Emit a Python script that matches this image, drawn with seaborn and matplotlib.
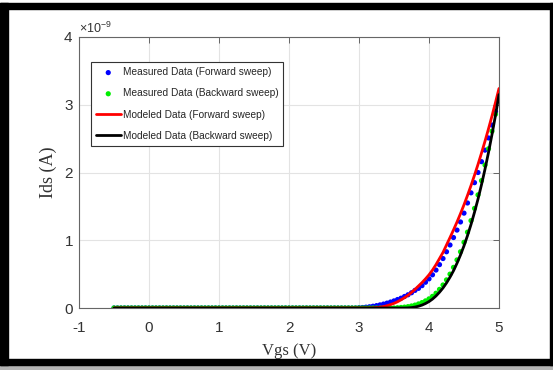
import numpy as np
import matplotlib
matplotlib.use("Agg")
import matplotlib.pyplot as plt
import seaborn as sns
from matplotlib.patches import Rectangle

# =============================
# Data (Ids in units of 1e-9 A)
# =============================
vgs = np.round(np.arange(-0.5, 5.0 + 1e-9, 0.05), 2)  # sweep grid, 111 points

ids_fwd_meas = [0.0] * 70 + [
    0.004, 0.007, 0.012, 0.018, 0.026, 0.035, 0.046, 0.058, 0.072, 0.088,
    0.105, 0.125, 0.145, 0.17, 0.195, 0.225, 0.26, 0.29, 0.33, 0.38,
    0.43, 0.49, 0.56, 0.64, 0.73, 0.83, 0.93, 1.04, 1.15, 1.27,
    1.40, 1.55, 1.70, 1.85, 2.00, 2.16, 2.33, 2.51, 2.70, 2.90, 3.12]

ids_bwd_meas = [0.0] * 81 + [
    0.004, 0.008, 0.013, 0.02, 0.03, 0.043, 0.06, 0.08, 0.105, 0.135,
    0.172, 0.218, 0.275, 0.34, 0.415, 0.50, 0.60, 0.71, 0.83, 0.97,
    1.12, 1.29, 1.47, 1.67, 1.88, 2.11, 2.35, 2.61, 2.86, 3.12]

ids_fwd_model = [0.0] * 73 + [
    0.0005, 0.002, 0.006, 0.012, 0.021, 0.034, 0.05, 0.069, 0.092, 0.12,
    0.152, 0.188, 0.23, 0.275, 0.325, 0.375, 0.43, 0.49, 0.56, 0.64,
    0.73, 0.82, 0.93, 1.04, 1.152, 1.269, 1.393, 1.524, 1.662, 1.807,
    1.96, 2.119, 2.287, 2.462, 2.645, 2.835, 3.034, 3.24]

ids_bwd_model = [0.0] * 84 + [
    0.002, 0.006, 0.014, 0.026, 0.043, 0.066, 0.095, 0.132, 0.178, 0.233,
    0.296, 0.37, 0.455, 0.55, 0.661, 0.783, 0.918, 1.068, 1.232, 1.413,
    1.607, 1.82, 2.049, 2.296, 2.562, 2.845, 3.15]

labels = ["Measured Data (Forward sweep)", "Measured Data (Backward sweep)",
          "Modeled Data (Forward sweep)", "Modeled Data (Backward sweep)"]

x_ticks = [-1, 0, 1, 2, 3, 4, 5]
y_ticks = [0, 1, 2, 3, 4]

# =============================
# Style
# =============================
sns.set_style("white")
plt.rcParams["font.family"] = ["Liberation Sans", "DejaVu Sans"]
plt.rcParams["axes.unicode_minus"] = False
plt.rcParams["mathtext.fontset"] = "custom"
plt.rcParams["mathtext.rm"] = "Liberation Sans"

fig, ax = plt.subplots(figsize=(5.53, 3.70), dpi=100)
fig.subplots_adjust(left=79 / 553, right=499 / 553, bottom=1 - 308 / 370, top=1 - 37 / 370)

scale = 1e-9
sns.scatterplot(x=vgs, y=np.array(ids_fwd_meas) * scale, color="#0000ff", s=14,
                edgecolor="none", label=labels[0], ax=ax, zorder=2)
sns.scatterplot(x=vgs, y=np.array(ids_bwd_meas) * scale, color="#00ee00", s=14,
                edgecolor="none", label=labels[1], ax=ax, zorder=2)
sns.lineplot(x=vgs, y=np.array(ids_fwd_model) * scale, color="#ff0000", linewidth=2.0,
             label=labels[2], ax=ax, zorder=3)
sns.lineplot(x=vgs, y=np.array(ids_bwd_model) * scale, color="black", linewidth=2.0,
             label=labels[3], ax=ax, zorder=3)

ax.set_xlim(-1, 5)
ax.set_ylim(0, 4e-9)
ax.set_xticks(x_ticks)
ax.set_yticks([t * scale for t in y_ticks])
ax.ticklabel_format(style="sci", axis="y", scilimits=(0, 0), useMathText=True)
ax.yaxis.get_offset_text().set_fontsize(9)
ax.yaxis.get_offset_text().set_color("#333333")

ax.grid(True, color="#e3e3e3", linewidth=0.8)
ax.set_axisbelow(True)
for sp in ax.spines.values():
    sp.set_color("#666666")
    sp.set_linewidth(0.8)
ax.tick_params(direction="in", top=True, right=True, length=4, width=0.7,
               colors="#666666", labelcolor="#333333", labelsize=11)
ax.tick_params(axis="x", pad=9)
ax.tick_params(axis="y", pad=4)

ax.set_xlabel("Vgs (V)", family="Liberation Serif", fontsize=12, color="#333333", labelpad=6)
ax.set_ylabel("Ids (A)", family="Liberation Serif", fontsize=13, color="#333333")
ax.yaxis.set_label_coords(-0.052, 0.5)

leg = ax.legend(loc="upper left", bbox_to_anchor=(0.028, 0.907), borderaxespad=0,
                fontsize=7.3, frameon=True, fancybox=False, framealpha=1,
                handlelength=2.45, handletextpad=0.2, labelspacing=1.1, borderpad=0.5,
                markerscale=1.0)
leg.get_frame().set_edgecolor("#333333")
leg.get_frame().set_linewidth(0.8)

# ----- outer black frame like the screenshot
W, H = 553, 370
def band(x0, y0, x1, y1, c):
    fig.patches.append(Rectangle((x0 / W, 1 - y1 / H), (x1 - x0) / W, (y1 - y0) / H,
                                 transform=fig.transFigure, color=c, zorder=10))
band(0, 365, W, H, "#b4b4b4")
band(0, 3, 8, 365, "black")
band(0, 3, W, 9, "black")
band(550, 3, W, 365, "black")
band(0, 359, W, 365, "black")

fig.savefig("out.png", dpi=100)
